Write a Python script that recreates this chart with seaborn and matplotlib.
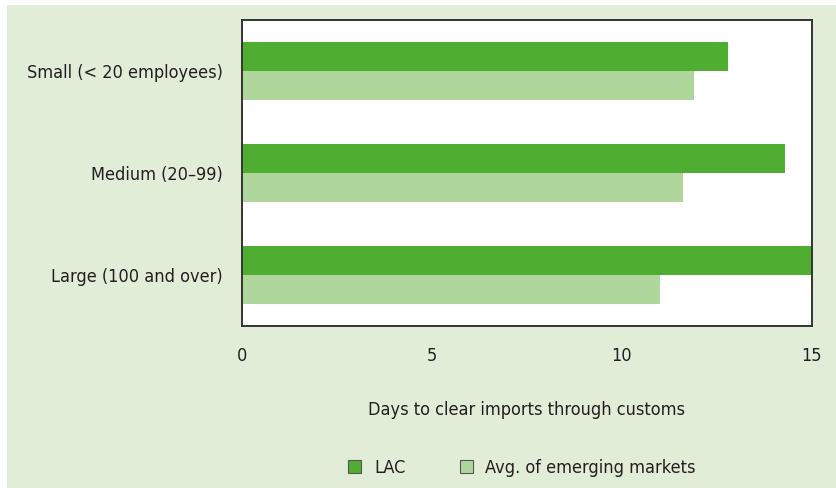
import matplotlib
matplotlib.use("Agg")
import matplotlib.pyplot as plt
import matplotlib.patches as mpatches
import seaborn as sns
import pandas as pd

categories = ["Small (< 20 employees)", "Medium (20\u201399)", "Large (100 and over)"]
series_names = ["LAC", "Avg. of emerging markets"]
lac_days = [12.8, 14.3, 15.0]
em_days = [11.9, 11.6, 11.0]
x_ticks = [0, 5, 10, 15]
x_label = "Days to clear imports through customs"

BG = "#e1edd7"
DARK = "#4fae32"
LIGHT = "#b0d79b"
TEXT = "#231f20"

sns.set_theme(style="white")
plt.rcParams["font.family"] = ["DejaVu Sans"]
plt.rcParams["font.stretch"] = "condensed"

df = pd.DataFrame({
    "category": categories * 2,
    "series": [series_names[0]] * 3 + [series_names[1]] * 3,
    "days": lac_days + em_days,
})

fig = plt.figure(figsize=(8.37, 4.88), dpi=100, facecolor=BG)
# thin white margin at the left and top of the panel
fig.patches.append(mpatches.Rectangle((0, 0), 7 / 837, 1, transform=fig.transFigure,
                                      facecolor="white", edgecolor="none", zorder=0))
fig.patches.append(mpatches.Rectangle((0, 1 - 5 / 488), 1, 5 / 488, transform=fig.transFigure,
                                      facecolor="white", edgecolor="none", zorder=0))

ax = fig.add_axes([242 / 837, 1 - 326 / 488, 570 / 837, 306 / 488])
ax.set_facecolor("white")

sns.barplot(data=df, y="category", x="days", hue="series", order=categories,
            hue_order=series_names, palette=[DARK, LIGHT], width=0.57,
            orient="h", ax=ax, legend=False, saturation=1, linewidth=0)

FS = 13
ax.set_xlim(0, 15)
ax.set_ylim(2.5, -0.5)
ax.set_xticks(x_ticks)
ax.set_xticklabels([str(t) for t in x_ticks], fontsize=FS, color=TEXT)
ax.tick_params(axis="x", direction="out", length=6, width=1.2, color="#333333", pad=9)
ax.tick_params(axis="y", length=0, pad=14, labelsize=FS, labelcolor=TEXT)
ax.set_ylabel("")
ax.set_xlabel(x_label, fontsize=FS, color=TEXT, labelpad=26)
for s in ax.spines.values():
    s.set_visible(True)
    s.set_color("#333333")
    s.set_linewidth(1.4)

handles = [mpatches.Patch(facecolor=DARK, edgecolor="#555555", linewidth=0.8, label=series_names[0]),
           mpatches.Patch(facecolor=LIGHT, edgecolor="#555555", linewidth=0.8, label=series_names[1])]
fig.legend(handles=handles, loc="center", bbox_to_anchor=(522 / 837, 1 - 468 / 488),
           ncol=2, frameon=False, fontsize=FS, handlelength=0.72, handleheight=0.72,
           handletextpad=0.7, columnspacing=3.0, labelcolor=TEXT)

fig.savefig("out.png", dpi=100, facecolor=BG)
